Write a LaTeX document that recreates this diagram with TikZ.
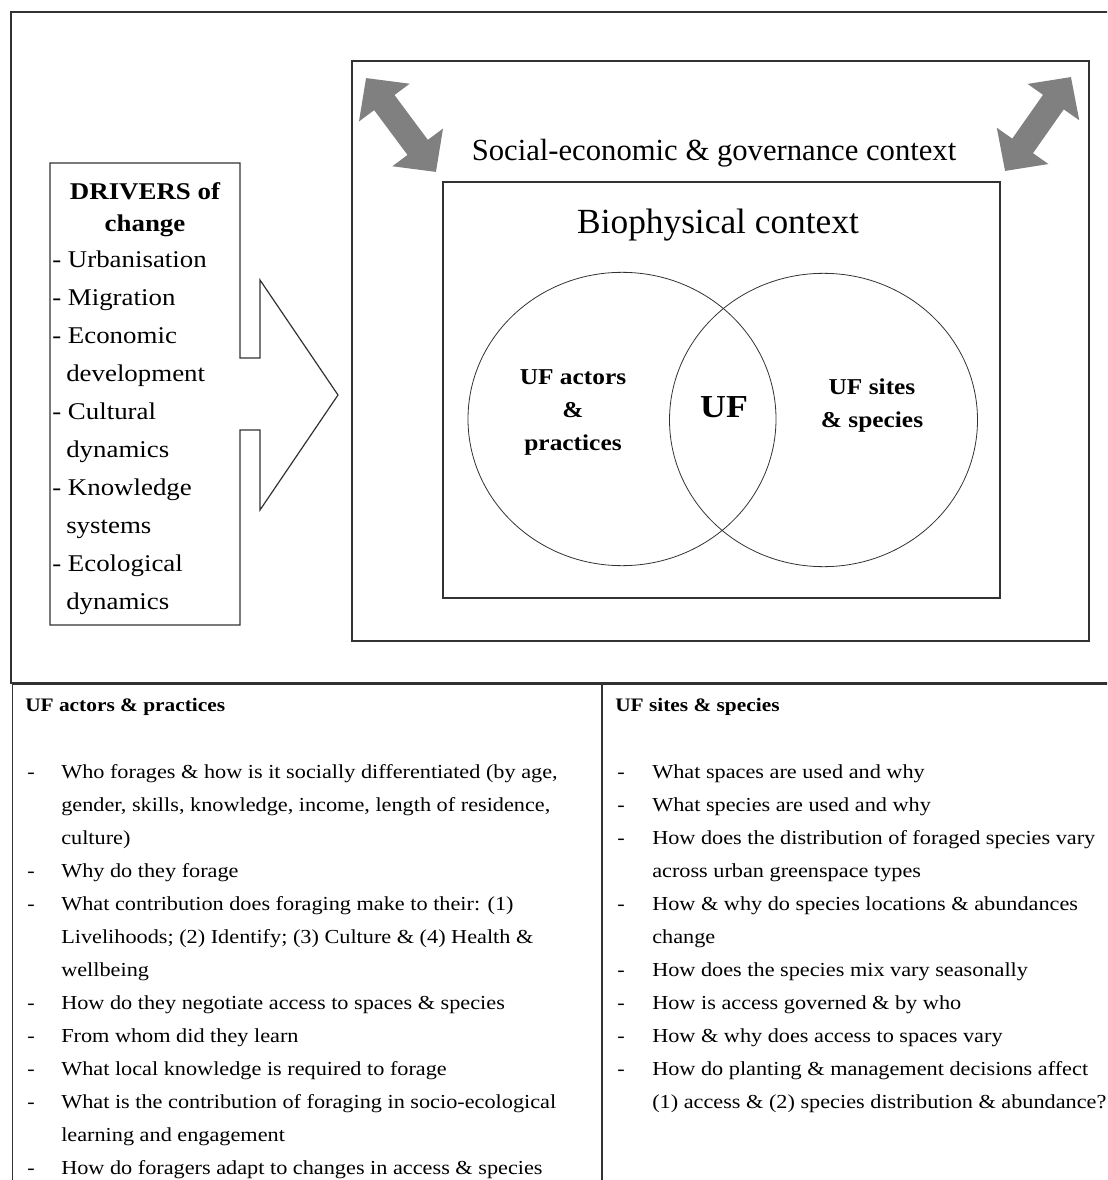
\documentclass[tikz,border=0pt]{standalone}
\usepackage{fontspec}
\setmainfont{Liberation Serif}[FakeStretch=1.12]
\newfontfamily\plainserif{Liberation Serif}
\usepackage{tikz}
\usetikzlibrary{arrows.meta, shapes.geometric}
\definecolor{edge}{RGB}{50, 50, 50}
\definecolor{fatgray}{RGB}{128, 128, 128}

\begin{document}
\begin{tikzpicture}[x=0.75pt, y=-0.75pt,
  boxline/.style={draw=edge, line width=0.9pt},
  twoway/.style={draw=fatgray, line width=19pt,
    {Triangle[length=23pt, width=46pt]}-{Triangle[length=23pt, width=46pt]}},
  venn/.style={draw=edge, line width=0.6pt, ellipse, minimum width=231pt,
    minimum height=220pt, inner sep=0pt},
  drvline/.style={anchor=base west, inner sep=0pt, font=\fontsize{18}{22}\selectfont},
  listline/.style={anchor=base west, inner sep=0pt, font=\fontsize{14.9}{18}\selectfont},
  listhead/.style={anchor=base west, inner sep=0pt, font=\bfseries\fontsize{14.3}{17}\selectfont}]
  \useasboundingbox (0, 0) rectangle (1107, 1180);
  \clip (0, 0) rectangle (1107, 1180);

  % frame and table
  \draw[boxline] (11, 12) rectangle (1130, 683);
  \draw[boxline, line width=1.3pt] (12.5, 684.5) rectangle (1130, 1200);
  \draw[boxline] (602, 685) -- (602, 1200);

  % drivers box and its arrow
  \draw[boxline] (50, 163) -- (240, 163) -- (240, 358) -- (260, 358) -- (260, 280)
    -- (338, 395) -- (260, 510) -- (260, 430) -- (240, 430) -- (240, 625) -- (50, 625) -- cycle;
  \node[font=\bfseries\fontsize{18}{22}\selectfont] (drvhead) at (145, 191) {DRIVERS of};
  \node[font=\bfseries\fontsize{18}{22}\selectfont] (drvchange) at (145, 226) {change};
  \foreach \xx/\txt [count=\i] in {52/{- Urbanisation}, 52/{- Migration}, 52/{- Economic},
      66/{development}, 52/{- Cultural}, 66/{dynamics}, 52/{- Knowledge}, 66/{systems},
      52/{- Ecological}, 66/{dynamics}}
    \node[drvline] (drv\i) at (\xx, 268+37.9*\i-37.9) {\txt};

  % contexts
  \draw[boxline] (352, 61) rectangle (1089, 641);
  \draw[boxline] (443, 182) rectangle (1000, 598);
  \node[font=\plainserif\fontsize{23}{28}\selectfont] (socio) at (714, 153)
    {Social-economic \& governance context};
  \node[font=\plainserif\fontsize{26.5}{32}\selectfont] (bio) at (718, 225) {Biophysical context};

  \coordinate (nwA) at (366, 78);
  \coordinate (nwB) at (436, 172);
  \coordinate (neA) at (1071, 77);
  \coordinate (neB) at (1005, 171);
  \draw[twoway] (nwA) -- (nwB);
  \draw[twoway] (neA) -- (neB);

  % venn
  \node[venn] (actors) at (622, 419) {};
  \node[venn] (sites) at (823.5, 420) {};
  \node[align=center, font=\bfseries\fontsize{17}{24.75}\selectfont] (actorslbl) at (573, 412)
    {UF actors\\\&\\practices};
  \node[font=\bfseries\fontsize{24}{28}\selectfont] (uf) at (724, 407) {UF};
  \node[align=center, font=\bfseries\fontsize{17}{24.75}\selectfont] (siteslbl) at (872, 406)
    {UF sites\\\& species};

  % questions
  \node[listhead] (acthead) at (25, 711) {UF actors \& practices};
  \node[listhead] (sitehead) at (615, 711) {UF sites \& species};
  \foreach \dsh/\txt [count=\i] in {
      1/{Who forages \& how is it socially differentiated (by age,},
      0/{gender, skills, knowledge, income, length of residence,},
      0/{culture)},
      1/{Why do they forage},
      1/{What contribution does foraging make to their: (1)},
      0/{Livelihoods; (2) Identify; (3) Culture \& (4) Health \&},
      0/{wellbeing},
      1/{How do they negotiate access to spaces \& species},
      1/{From whom did they learn},
      1/{What local knowledge is required to forage},
      1/{What is the contribution of foraging in socio-ecological},
      0/{learning and engagement},
      1/{How do foragers adapt to changes in access \& species}}{
    \node[listline] (act\i) at (61, 778+33.08*\i-33.08) {\txt};
    \ifnum\dsh=1 \node[listline] (actdash\i) at (27, 778+33.08*\i-33.08) {-};\fi
  }
  \foreach \dsh/\txt [count=\i] in {
      1/{What spaces are used and why},
      1/{What species are used and why},
      1/{How does the distribution of foraged species vary},
      0/{across urban greenspace types},
      1/{How \& why do species locations \& abundances},
      0/{change},
      1/{How does the species mix vary seasonally},
      1/{How is access governed \& by who},
      1/{How \& why does access to spaces vary},
      1/{How do planting \& management decisions affect},
      0/{(1) access \& (2) species distribution \& abundance?}}{
    \node[listline] (site\i) at (652, 778+33.08*\i-33.08) {\txt};
    \ifnum\dsh=1 \node[listline] (sitedash\i) at (617, 778+33.08*\i-33.08) {-};\fi
  }
\end{tikzpicture}
\end{document}
